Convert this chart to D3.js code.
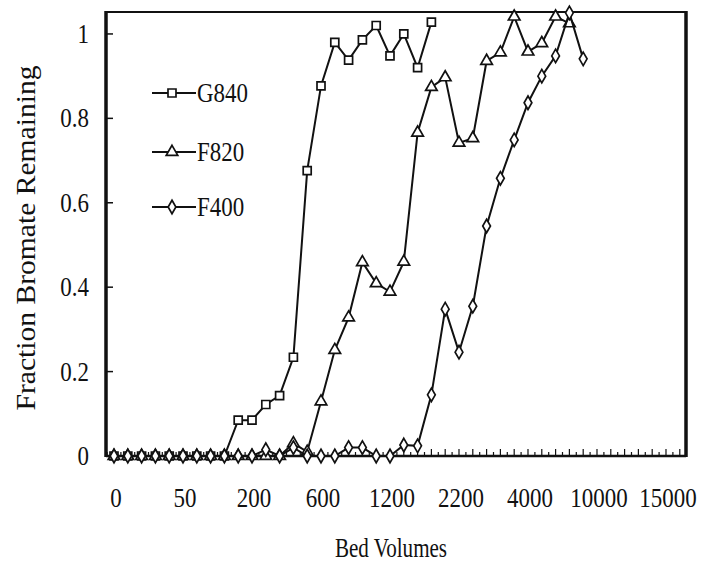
<!DOCTYPE html>
<html>
<head>
<meta charset="utf-8">
<script src="https://cdn.jsdelivr.net/npm/d3@7"></script>
<style>
  body { margin: 0; background: #fff; }
  svg { display: block; }
  text { font-family: "Liberation Serif", "Times New Roman", serif; fill: #111; }
</style>
</head>
<body>
<svg id="chart" width="701" height="566"></svg>
<script>
// Data (x = sample index along the bed-volume axis)
const tickLabels = ["0", "50", "200", "600", "1200", "2200", "4000", "10000", "15000"];
const tickIndex = [0, 5, 10, 15, 20, 25, 30, 35, 40];
const yTicks = [0, 0.2, 0.4, 0.6, 0.8, 1];

const g840 = [0, 0, 0, 0, 0, 0, 0, 0, 0, 0.085, 0.085, 0.122, 0.143, 0.234, 0.676, 0.877,
              0.980, 0.938, 0.986, 1.020, 0.948, 1.0, 0.920, 1.028];
const f820 = [0, 0, 0, 0, 0, 0, 0, 0, 0, 0, 0, 0, 0, 0.03, 0.01, 0.129, 0.251, 0.328, 0.459,
              0.409, 0.389, 0.460, 0.766, 0.874, 0.897, 0.742, 0.753, 0.936, 0.956, 1.041,
              0.958, 0.978, 1.041, 1.025];
const f400 = [0, 0, 0, 0, 0, 0, 0, 0, 0, 0, 0, 0.015, 0, 0.02, 0, 0, 0, 0.02, 0.02, 0, 0,
              0.026, 0.024, 0.145, 0.348, 0.246, 0.355, 0.545, 0.658, 0.749, 0.837, 0.900,
              0.948, 1.050, 0.941];

const seriesNames = ["G840", "F820", "F400"];
const seriesData = [g840, f820, f400];
const seriesSymbols = [d3.symbolSquare, d3.symbolTriangle, d3.symbolDiamond];
const symbolSizes = [64, 58, 52];

const svg = d3.select("#chart");

// Scales
const x = d3.scaleLinear().domain([-0.58, 41.45]).range([106, 686]);
const y = d3.scaleLinear().domain([0, 1.052]).range([456, 12]);

// Frame (left/right heavier than top, as in the scan)
const [x0, x1] = x.range();
const [yb, yt] = y.range();
const frame = svg.append("g").attr("stroke", "#111").attr("fill", "none");
frame.append("line").attr("x1", x0).attr("x2", x1).attr("y1", yt).attr("y2", yt).attr("stroke-width", 2);
frame.append("line").attr("x1", x0).attr("x2", x1).attr("y1", yb).attr("y2", yb).attr("stroke-width", 2.5);
frame.append("line").attr("x1", x0).attr("x2", x0).attr("y1", yt - 1).attr("y2", yb + 1).attr("stroke-width", 3.5);
frame.append("line").attr("x1", x1).attr("x2", x1).attr("y1", yt - 1).attr("y2", yb + 1).attr("stroke-width", 3.5);

// Left axis: inward ticks + labels
const yAxis = svg.append("g").attr("transform", `translate(${x0},0)`);
yAxis.selectAll("line")
    .data(yTicks).enter().append("line")
    .attr("x1", 0).attr("x2", 7)
    .attr("y1", d => y(d)).attr("y2", d => y(d))
    .attr("stroke", "#111").attr("stroke-width", 1.5);
yAxis.selectAll("text")
    .data(yTicks).enter().append("text")
    .attr("text-anchor", "end")
    .attr("font-size", 27)
    .attr("transform", d => `translate(-17,${y(d) + 9}) scale(0.85,1)`)
    .text(d => d3.format("~g")(d));

// Bottom axis: small inward ticks every half step
const minor = d3.range(-0.5, 41.5, 0.5);
svg.append("g").selectAll("line")
    .data(minor).enter().append("line")
    .attr("x1", d => x(d)).attr("x2", d => x(d))
    .attr("y1", yb).attr("y2", d => yb - (Number.isInteger(d) ? 7 : 4))
    .attr("stroke", "#111").attr("stroke-width", 1.2);

svg.append("g").selectAll("text")
    .data(tickIndex).enter().append("text")
    .attr("text-anchor", "middle")
    .attr("font-size", 27)
    .attr("transform", (d, i) => `translate(${x(d) + 2},507) scale(0.85,1)`)
    .text((d, i) => tickLabels[i]);

// Axis titles
svg.append("text")
    .attr("text-anchor", "middle")
    .attr("font-size", 27)
    .attr("transform", "translate(391,557) scale(0.78,1)")
    .text("Bed Volumes");

svg.append("text")
    .attr("text-anchor", "middle")
    .attr("font-size", 27)
    .attr("transform", "translate(35,238) rotate(-90)")
    .attr("textLength", 345)
    .attr("lengthAdjust", "spacingAndGlyphs")
    .text("Fraction Bromate Remaining");

// Series
const line = d3.line().x((d, i) => x(i)).y(d => y(d));

seriesData.forEach((vals, k) => {
    svg.append("path")
        .datum(vals)
        .attr("d", line)
        .attr("fill", "none")
        .attr("stroke", "#111")
        .attr("stroke-width", 2);

    svg.append("g").selectAll("path")
        .data(vals).enter().append("path")
        .attr("d", d3.symbol().type(seriesSymbols[k]).size(symbolSizes[k]))
        .attr("transform", (d, i) => `translate(${x(i)},${y(d)})`)
        .attr("fill", "#fff")
        .attr("stroke", "#111")
        .attr("stroke-width", 1.7);
});

// Legend
const legendY = [93, 152, 207];
const legend = svg.append("g");
seriesNames.forEach((name, k) => {
    legend.append("line")
        .attr("x1", 152).attr("x2", 196)
        .attr("y1", legendY[k]).attr("y2", legendY[k])
        .attr("stroke", "#111").attr("stroke-width", 2);
    legend.append("path")
        .attr("d", d3.symbol().type(seriesSymbols[k]).size(symbolSizes[k]))
        .attr("transform", `translate(172,${legendY[k]})`)
        .attr("fill", "#fff").attr("stroke", "#111").attr("stroke-width", 1.7);
    legend.append("text")
        .attr("font-size", 27)
        .attr("transform", `translate(197,${legendY[k] + 9}) scale(0.85,1)`)
        .text(name);
});
</script>
</body>
</html>
